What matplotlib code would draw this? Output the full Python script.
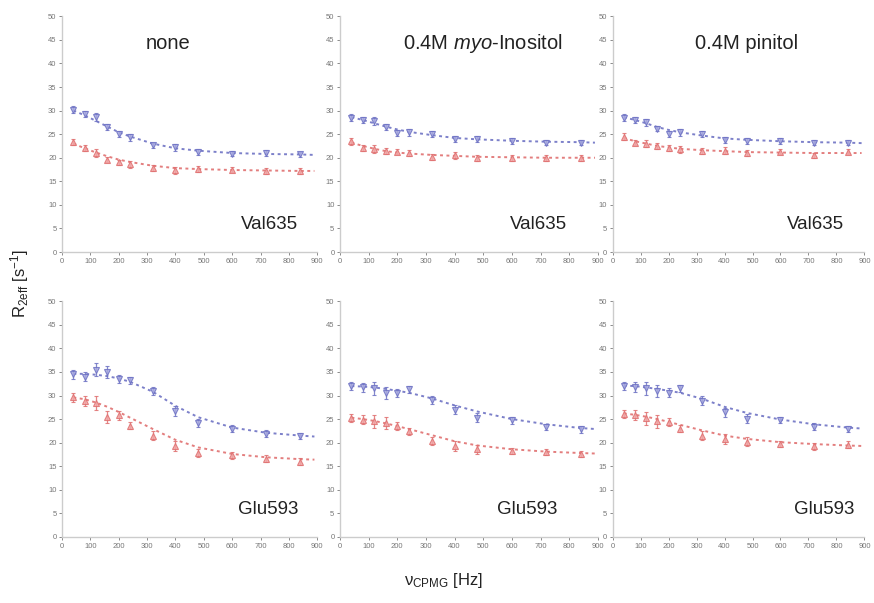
import numpy as np
import matplotlib
matplotlib.use('Agg')
import matplotlib.pyplot as plt

plt.rcParams['font.family'] = ['Liberation Sans', 'DejaVu Sans']
plt.rcParams['mathtext.fontset'] = 'custom'
plt.rcParams['mathtext.rm'] = 'Liberation Sans'
plt.rcParams['mathtext.it'] = 'Liberation Sans:italic'

# CPMG 频率 (Hz)
freq = [40, 80, 120, 160, 200, 240, 320, 400, 480, 600, 720, 840]
fit_x = freq + [890]

titles = ['none', '0.4M $\\mathit{myo}$-Inositol', '0.4M pinitol']
residues = ['Val635', 'Glu593']

# 上排 Val635
val_blue = [
    [30.2, 29.3, 28.6, 26.5, 25.0, 24.3, 22.6, 22.2, 21.2, 20.9, 21.0, 20.7],
    [28.5, 28.0, 27.8, 26.5, 25.3, 25.4, 25.0, 24.0, 24.0, 23.5, 23.2, 23.2],
    [28.5, 28.0, 27.5, 26.2, 25.0, 25.4, 25.0, 23.8, 23.6, 23.5, 23.2, 23.2],
]
val_red = [
    [23.3, 22.0, 21.0, 19.6, 19.0, 18.6, 17.8, 17.3, 17.6, 17.5, 17.2, 17.2],
    [23.5, 22.0, 21.8, 21.5, 21.3, 21.0, 20.2, 20.5, 20.0, 20.0, 20.0, 20.0],
    [24.5, 23.2, 23.0, 22.5, 22.0, 21.8, 21.5, 21.5, 21.0, 21.3, 20.5, 21.3],
]
val_blue_fit = [
    [30.0, 29.0, 27.8, 26.6, 25.4, 24.5, 23.0, 22.0, 21.5, 21.0, 20.8, 20.7, 20.6],
    [28.6, 28.0, 27.3, 26.6, 26.0, 25.5, 24.8, 24.2, 23.9, 23.6, 23.4, 23.3, 23.2],
    [28.6, 28.0, 27.3, 26.5, 25.9, 25.4, 24.7, 24.1, 23.8, 23.5, 23.3, 23.2, 23.1],
]
val_red_fit = [
    [23.0, 22.0, 21.1, 20.3, 19.6, 19.1, 18.3, 17.8, 17.6, 17.4, 17.3, 17.2, 17.2],
    [23.2, 22.5, 21.9, 21.4, 21.1, 20.9, 20.6, 20.4, 20.2, 20.1, 20.0, 20.0, 20.0],
    [24.2, 23.5, 23.0, 22.5, 22.2, 21.9, 21.6, 21.4, 21.2, 21.1, 21.0, 21.0, 21.0],
]

# 下排 Glu593
glu_blue = [
    [34.5, 34.0, 35.5, 35.0, 33.5, 33.2, 31.0, 26.7, 24.2, 23.0, 21.9, 21.4],
    [32.0, 31.7, 31.5, 30.5, 30.5, 31.3, 29.0, 27.0, 25.3, 24.7, 23.3, 22.8],
    [32.0, 31.8, 31.5, 31.0, 30.6, 31.5, 28.9, 26.4, 25.1, 24.8, 23.4, 22.9],
]
glu_red = [
    [29.6, 28.8, 28.4, 25.5, 25.8, 23.6, 21.5, 19.3, 17.8, 17.3, 16.6, 16.0],
    [25.2, 24.9, 24.5, 24.2, 23.5, 22.4, 20.3, 19.3, 18.6, 18.2, 18.0, 17.6],
    [26.1, 25.9, 25.2, 24.5, 24.4, 23.0, 21.5, 20.8, 20.2, 19.7, 19.2, 19.6],
]
glu_blue_fit = [
    [34.6, 34.6, 34.4, 34.1, 33.6, 32.9, 30.8, 27.8, 25.4, 23.2, 22.1, 21.5, 21.3],
    [32.0, 31.9, 31.7, 31.4, 31.0, 30.6, 29.4, 27.9, 26.6, 25.0, 23.9, 23.1, 22.9],
    [32.1, 32.0, 31.7, 31.4, 31.0, 30.6, 29.3, 27.6, 26.3, 24.9, 23.9, 23.2, 23.0],
]
glu_red_fit = [
    [29.6, 29.2, 28.5, 27.6, 26.5, 25.3, 22.9, 20.6, 19.0, 17.6, 16.9, 16.5, 16.4],
    [25.3, 25.0, 24.6, 24.1, 23.5, 22.9, 21.6, 20.3, 19.4, 18.6, 18.1, 17.8, 17.7],
    [26.2, 25.9, 25.5, 25.0, 24.4, 23.8, 22.6, 21.5, 20.8, 20.1, 19.7, 19.4, 19.3],
]

# 误差
err_val = [0.7, 0.6, 0.8, 0.6, 0.6, 0.7, 0.6, 0.7, 0.6, 0.6, 0.6, 0.6]
err_glu = [0.9, 1.0, 1.4, 1.3, 0.9, 0.8, 0.9, 1.0, 0.9, 0.7, 0.7, 0.7]

blue = '#6e72c4'
red = '#e07070'
spine_col = '#cccccc'

fig = plt.figure(figsize=(8.74, 6.03), dpi=100)

lefts = [0.071, 0.389, 0.701]
widths = [0.292, 0.295, 0.288]
bottoms = [0.582, 0.1095]
height = 0.391

title_x = [0.416, 0.555, 0.53]
label_x = [[0.925, 0.88, 0.92], [0.925, 0.845, 0.96]]

rows = [
    (val_blue, val_red, val_blue_fit, val_red_fit, err_val),
    (glu_blue, glu_red, glu_blue_fit, glu_red_fit, err_glu),
]

for r, (b_all, r_all, bf_all, rf_all, err) in enumerate(rows):
    for c in range(3):
        ax = fig.add_axes([lefts[c], bottoms[r], widths[c], height])
        ax.plot(fit_x, bf_all[c], ls=(0, (1.5, 1.8)), color=blue, lw=1.4, alpha=0.9)
        ax.plot(fit_x, rf_all[c], ls=(0, (1.5, 1.8)), color=red, lw=1.4, alpha=0.9)
        ax.errorbar(freq, b_all[c], yerr=err, fmt='v', ms=4, color=blue,
                    mfc='#a9abe0', mec=blue, mew=0.8, elinewidth=0.9, capsize=1.5, alpha=0.85)
        ax.errorbar(freq, r_all[c], yerr=err, fmt='^', ms=4, color=red,
                    mfc='#f0a8a8', mec=red, mew=0.8, elinewidth=0.9, capsize=1.5, alpha=0.85)
        ax.set_xlim(0, 900)
        ax.set_ylim(0, 50)
        ax.set_xticks(np.arange(0, 901, 100))
        ax.set_yticks(np.arange(0, 51, 5))
        ax.tick_params(labelsize=5.5, colors='#777777', length=2, width=0.6, pad=2)
        for s in ['top', 'right']:
            ax.spines[s].set_visible(False)
        for s in ['left', 'bottom']:
            ax.spines[s].set_color(spine_col)
            ax.spines[s].set_linewidth(1.0)
        if r == 0:
            ax.text(title_x[c], 0.886, titles[c], transform=ax.transAxes, ha='center',
                    va='center', fontsize=14.5, color='#222222')
        ax.text(label_x[r][c], 0.115, residues[r], transform=ax.transAxes, ha='right',
                va='center', fontsize=13.5, color='#222222')

fig.text(0.022, 0.53, 'R$_{\\mathrm{2eff}}$ [s$^{-1}$]', rotation=90, ha='center', va='center',
         fontsize=12, color='#222222')
fig.text(0.507, 0.038, 'ν$_{\\mathrm{CPMG}}$ [Hz]', ha='center', va='center',
         fontsize=12, color='#222222')

fig.savefig('out.png', dpi=100)
